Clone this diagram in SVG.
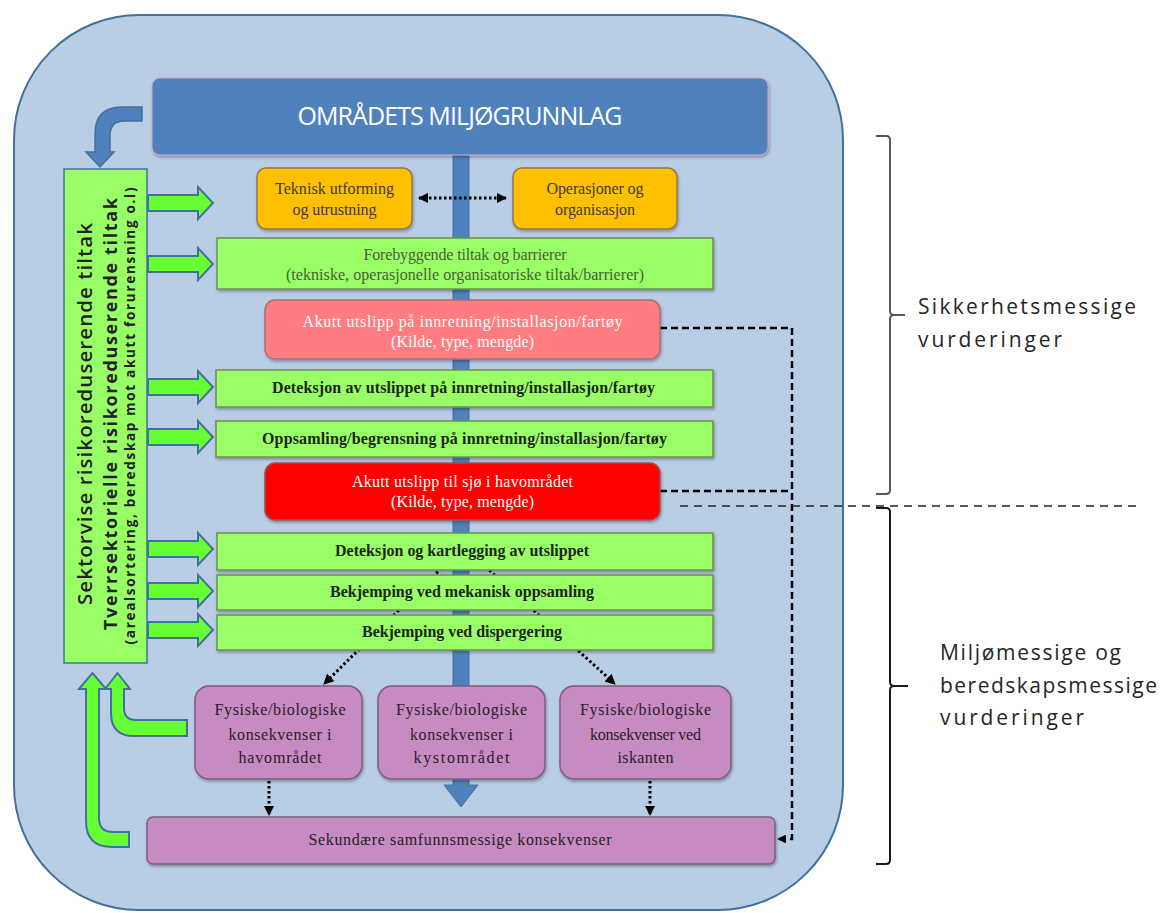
<svg xmlns="http://www.w3.org/2000/svg" xmlns:xlink="http://www.w3.org/1999/xlink" width="1160" height="913" viewBox="0 0 1160 913">
<defs>
<style>
.serif{font-family:"Liberation Serif","Times New Roman",serif;text-anchor:middle;font-size:16px}
.sans{font-family:"Open Sans","Liberation Sans",sans-serif}
.bx-g{fill:#99FF66;stroke:#6E8F52;stroke-width:1.5}
.bx-o{fill:#FFC000;stroke:#8E7A4E;stroke-width:1.5}
.bx-p{fill:#C68BC0;stroke:#7E5E7C;stroke-width:1.5}
.garrow{fill:#66FF33;stroke:#41719C;stroke-width:2}
.dot{fill:none;stroke:#000;stroke-width:3;stroke-dasharray:2.5 2.5}
.dash{fill:none;stroke:#000;stroke-width:2.5;stroke-dasharray:7 4}
.dk{fill:#1E2418}
.wt{fill:#FFFFFF}
.pt{fill:#2A1C2A}
.rt{font-family:"Open Sans","Liberation Sans",sans-serif;font-size:21px;fill:#262626}
</style>
<filter id="sh" x="-5%" y="-10%" width="110%" height="130%">
<feDropShadow dx="1" dy="2" stdDeviation="1.5" flood-color="#000" flood-opacity="0.3"/>
</filter>
<marker id="ah" viewBox="0 0 10 10" refX="9" refY="5" markerWidth="3.5" markerHeight="3.5" orient="auto-start-reverse">
<path d="M0,0 L10,5 L0,10 z" fill="#000"/>
</marker>
<path id="ga" d="M148,-8 H198 V-16 L213,0 L198,16 V8 H148 Z"/>
</defs>

<rect id="bg" x="14" y="15" width="829" height="895" rx="125" fill="#B9CDE5" stroke="#41719C" stroke-width="2"/>

<g id="connectors">
<path d="M453,155 V785 H444 L461,807 L478,785 H469 V155 Z" fill="#4F81BD" stroke="#41719C" stroke-width="1"/>
<path d="M142,107 H122 Q95,107 95,134 V152 H86 L100,167 L114,152 H110 V136 Q110,121 124,121 H142 Z" fill="#4F81BD" stroke="#41719C" stroke-width="1.5"/>
<use xlink:href="#ga" y="203" class="garrow"/>
<use xlink:href="#ga" y="264" class="garrow"/>
<use xlink:href="#ga" y="387" class="garrow"/>
<use xlink:href="#ga" y="437" class="garrow"/>
<use xlink:href="#ga" y="549" class="garrow"/>
<use xlink:href="#ga" y="591" class="garrow"/>
<use xlink:href="#ga" y="630" class="garrow"/>
<path d="M79,689 L92.5,673 L106,689 H99 V818 Q99,832 113,832 H129 V847 H112 Q86,847 86,821 V689 Z" class="garrow"/>
<path d="M105,689 L117.5,673 L130,689 H124 V708 Q124,720 136,720 H187 V736 H134 Q111,736 111,713 V689 Z" class="garrow"/>
<path d="M419,198 H506" class="dot" marker-start="url(#ah)" marker-end="url(#ah)"/>
<path d="M470,540 L324,684" class="dot" marker-end="url(#ah)"/>
<path d="M456,540 L615,684" class="dot" marker-end="url(#ah)"/>
<path d="M269,781 V815" class="dot" stroke-width="2.5" marker-end="url(#ah)"/>
<path d="M650,781 V815" class="dot" stroke-width="2.5" marker-end="url(#ah)"/>
<path d="M660,328 H792 V839 H778" class="dash" marker-end="url(#ah)"/>
<path d="M660,491 H792" class="dash"/>
<path d="M680,506 H1140" fill="none" stroke="#222" stroke-width="1.5" stroke-dasharray="8 6"/>
<path d="M876,136 H886 Q890,136 890,140 V311 Q890,315 894,315 H905 M894,315 Q890,315 890,319 V490 Q890,494 886,494 H876" fill="none" stroke="#595959" stroke-width="2"/>
<path d="M876,508 H886 Q890,508 890,512 V682 Q890,686 894,686 H908 M894,686 Q890,686 890,690 V860 Q890,864 886,864 H876" fill="none" stroke="#1A1A1A" stroke-width="2"/>
</g>

<g id="header">
<rect x="152" y="78" width="616" height="77" rx="8" fill="#4F81BD" stroke="#D9A6C8" stroke-width="1" filter="url(#sh)"/>
<text x="460" y="125" class="sans" font-size="25" fill="#FFFFFF" text-anchor="middle" textLength="325">OMRÅDETS MILJØGRUNNLAG</text>
</g>

<g id="tiltak">
<rect x="64" y="169" width="83" height="494" fill="#99FF66" stroke="#41719C" stroke-width="1.5"/>
<text transform="translate(92,414) rotate(-90)" class="sans" font-size="20.5" font-weight="600" fill="#222" text-anchor="middle" textLength="382">Sektorvise risikoreduserende tiltak</text>
<text transform="translate(117,414) rotate(-90)" class="sans" font-size="18" font-weight="700" fill="#222" text-anchor="middle" textLength="432">Tverrsektorielle risikoreduserende tiltak</text>
<text transform="translate(135,416) rotate(-90)" class="sans" font-size="13.5" font-weight="700" fill="#222" text-anchor="middle" textLength="457">(arealsortering, beredskap mot akutt forurensning o.l)</text>
</g>

<g id="teknisk">
<rect x="257" y="168" width="155" height="61" rx="9" class="bx-o" filter="url(#sh)"/>
<text x="334.5" y="194" class="serif" fill="#3A3A3A" textLength="119">Teknisk utforming</text>
<text x="334.5" y="215" class="serif" fill="#3A3A3A" textLength="84">og utrustning</text>
</g>

<g id="operasjoner">
<rect x="513" y="168" width="164" height="61" rx="9" class="bx-o" filter="url(#sh)"/>
<text x="595" y="194" class="serif" fill="#3A3A3A" textLength="97">Operasjoner og</text>
<text x="595" y="215" class="serif" fill="#3A3A3A" textLength="80">organisasjon</text>
</g>

<g id="forebyggende">
<rect x="217" y="238" width="496" height="51" class="bx-g" filter="url(#sh)"/>
<text x="465" y="260" class="serif" font-size="15.5" fill="#4A5E36" textLength="203">Forebyggende tiltak og barrierer</text>
<text x="465" y="280" class="serif" font-size="15.5" fill="#4A5E36" textLength="358">(tekniske, operasjonelle organisatoriske tiltak/barrierer)</text>
</g>

<g id="akutt-innretning">
<rect x="265" y="300" width="395" height="59" rx="10" fill="#FF7C80" stroke="#A87070" stroke-width="1.5" filter="url(#sh)"/>
<text x="462.5" y="327" class="serif wt" textLength="320">Akutt utslipp på innretning/installasjon/fartøy</text>
<text x="462.5" y="347" class="serif wt" textLength="143">(Kilde, type, mengde)</text>
</g>

<g id="deteksjon-innretning">
<rect x="216" y="370" width="497" height="37" class="bx-g" filter="url(#sh)"/>
<text x="463.5" y="393" class="serif dk" font-size="15.5" font-weight="bold" textLength="383">Deteksjon av utslippet på innretning/installasjon/fartøy</text>
</g>

<g id="oppsamling">
<rect x="216" y="421" width="497" height="36" class="bx-g" filter="url(#sh)"/>
<text x="464.5" y="444" class="serif dk" font-size="15.5" font-weight="bold" textLength="405">Oppsamling/begrensning på innretning/installasjon/fartøy</text>
</g>

<g id="akutt-sjo">
<rect x="265" y="463" width="395" height="57" rx="10" fill="#FF0000" stroke="#A05050" stroke-width="1.5" filter="url(#sh)"/>
<text x="462.5" y="487" class="serif wt" textLength="221">Akutt utslipp til sjø i havområdet</text>
<text x="462.5" y="507" class="serif wt" textLength="143">(Kilde, type, mengde)</text>
</g>

<g id="deteksjon-kartlegging">
<rect x="217" y="533" width="496" height="37" class="bx-g" filter="url(#sh)"/>
<text x="462" y="556" class="serif dk" font-size="15.5" font-weight="bold" textLength="254">Deteksjon og kartlegging av utslippet</text>
</g>

<g id="mekanisk">
<rect x="217" y="575" width="496" height="35" class="bx-g" filter="url(#sh)"/>
<text x="462" y="597" class="serif dk" font-size="15.5" font-weight="bold" textLength="264">Bekjemping ved mekanisk oppsamling</text>
</g>

<g id="dispergering">
<rect x="217" y="615" width="496" height="35" class="bx-g" filter="url(#sh)"/>
<text x="462" y="637" class="serif dk" font-size="15.5" font-weight="bold" textLength="200">Bekjemping ved dispergering</text>
</g>

<g id="konsekvens-hav">
<rect x="195" y="686" width="167" height="93" rx="14" class="bx-p" filter="url(#sh)"/>
<text x="280" y="715" class="serif pt" textLength="131">Fysiske/biologiske</text>
<text x="280" y="740" class="serif pt" textLength="103">konsekvenser i</text>
<text x="280" y="763" class="serif pt" textLength="83">havområdet</text>
</g>

<g id="konsekvens-kyst">
<rect x="378" y="686" width="167" height="93" rx="14" class="bx-p" filter="url(#sh)"/>
<text x="461.5" y="715" class="serif pt" textLength="131">Fysiske/biologiske</text>
<text x="461.5" y="740" class="serif pt" textLength="103">konsekvenser i</text>
<text x="461.5" y="763" class="serif pt" textLength="96">kystområdet</text>
</g>

<g id="konsekvens-is">
<rect x="560" y="686" width="171" height="93" rx="14" class="bx-p" filter="url(#sh)"/>
<text x="645.5" y="715" class="serif pt" textLength="131">Fysiske/biologiske</text>
<text x="645.5" y="740" class="serif pt" textLength="111">konsekvenser ved</text>
<text x="645.5" y="763" class="serif pt" textLength="56">iskanten</text>
</g>

<g id="sekundaere">
<rect x="147" y="817" width="628" height="47" rx="6" class="bx-p" filter="url(#sh)"/>
<text x="460" y="845" class="serif pt" textLength="303">Sekundære samfunnsmessige konsekvenser</text>
</g>

<g id="label-sikkerhet">
<text x="918" y="314" class="rt" textLength="218">Sikkerhetsmessige</text>
<text x="918" y="347" class="rt" textLength="144">vurderinger</text>
</g>

<g id="label-miljo">
<text x="940" y="660" class="rt" textLength="181">Miljømessige og</text>
<text x="940" y="693" class="rt" textLength="217">beredskapsmessige</text>
<text x="940" y="725" class="rt" textLength="144">vurderinger</text>
</g>
</svg>
